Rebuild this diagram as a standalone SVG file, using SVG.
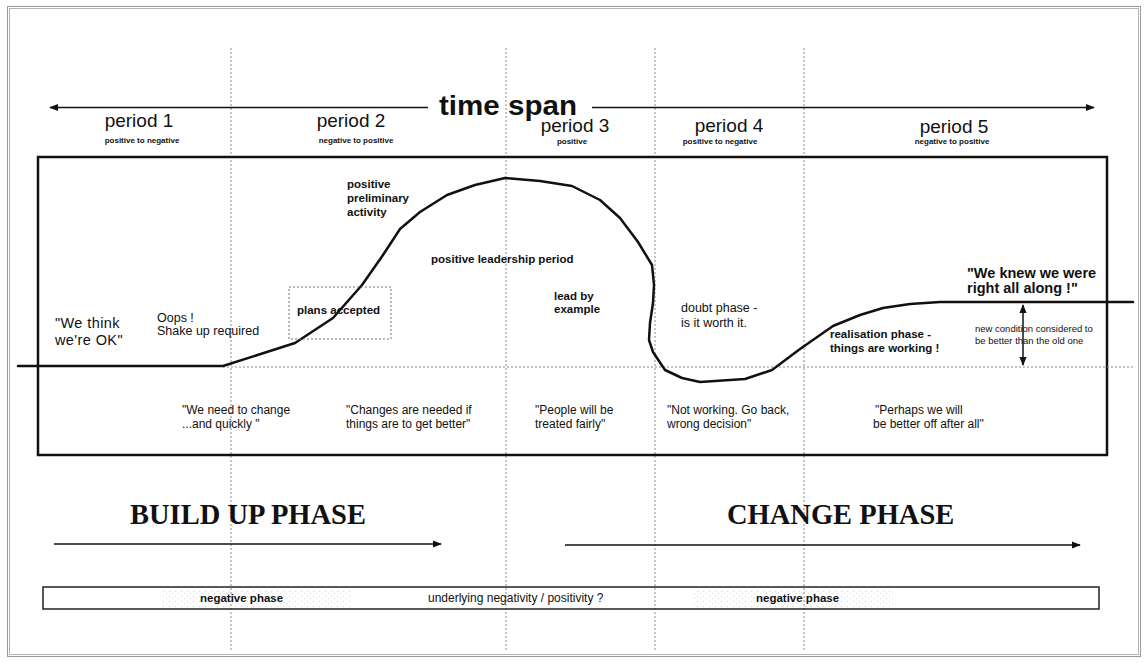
<svg xmlns="http://www.w3.org/2000/svg" width="1144" height="663" viewBox="0 0 1144 663">
  <style>
    .sans { font-family: "Liberation Sans", Arial, sans-serif; fill: #111; }
    .serif { font-family: "Liberation Serif", "Times New Roman", serif; fill: #111; font-weight: bold; }
    .period { font-size: 19px; text-anchor: middle; }
    .sub { font-size: 8px; font-weight: bold; text-anchor: middle; }
    .lbl { font-size: 11.5px; font-weight: bold; }
    .quote { font-size: 12px; }
    .guide { stroke: #8a8a8a; stroke-width: 1; stroke-dasharray: 2 2; fill: none; }
    .line { stroke: #111; fill: none; }
  </style>
  <defs>
    <marker id="arrowEnd" viewBox="0 0 10 10" refX="9" refY="5" markerWidth="9" markerHeight="9" markerUnits="userSpaceOnUse" orient="auto">
      <path d="M0,1 L10,5 L0,9 z" fill="#111"/>
    </marker>
    <marker id="arrowStart" viewBox="0 0 10 10" refX="1" refY="5" markerWidth="9" markerHeight="9" markerUnits="userSpaceOnUse" orient="auto">
      <path d="M10,1 L0,5 L10,9 z" fill="#111"/>
    </marker>
    <pattern id="grain" width="6" height="5" patternUnits="userSpaceOnUse">
      <rect x="1" y="1" width="1" height="1" fill="#c8c8c8"/>
      <rect x="4" y="3" width="1" height="1" fill="#d4d4d4"/>
    </pattern>
  </defs>

  <!-- page frame -->
  <rect x="0" y="0" width="1144" height="663" fill="#fff"/>
  <rect x="7.5" y="6.5" width="1133" height="650" fill="none" stroke="#9a9a9a" stroke-width="1"/>
  <rect x="9.5" y="8.5" width="1129" height="646" fill="none" stroke="#b5b5b5" stroke-width="1"/>

  <!-- period dividers -->
  <g id="dividers">
    <line class="guide" x1="231" y1="48" x2="231" y2="652"/>
    <line class="guide" x1="506" y1="48" x2="506" y2="652"/>
    <line class="guide" x1="655" y1="48" x2="655" y2="652"/>
    <line class="guide" x1="804" y1="48" x2="804" y2="652"/>
  </g>

  <!-- time span axis -->
  <g id="time-span">
    <line class="line" x1="50" y1="107.5" x2="428" y2="107.5" stroke-width="1.3" marker-start="url(#arrowStart)"/>
    <line class="line" x1="592" y1="107.5" x2="1094" y2="107.5" stroke-width="1.3" marker-end="url(#arrowEnd)"/>
    <text class="sans" x="439" y="115" font-size="28" font-weight="bold" textLength="138" lengthAdjust="spacingAndGlyphs">time span</text>
  </g>

  <!-- period headings -->
  <g id="period-1">
    <text class="sans period" x="139" y="127">period 1</text>
    <text class="sans sub" x="142" y="143">positive to negative</text>
  </g>
  <g id="period-2">
    <text class="sans period" x="351" y="127">period 2</text>
    <text class="sans sub" x="356" y="143">negative to positive</text>
  </g>
  <g id="period-3">
    <text class="sans period" x="575" y="132">period 3</text>
    <text class="sans sub" x="572" y="144">positive</text>
  </g>
  <g id="period-4">
    <text class="sans period" x="729" y="132">period 4</text>
    <text class="sans sub" x="720" y="144">positive to negative</text>
  </g>
  <g id="period-5">
    <text class="sans period" x="954" y="133">period 5</text>
    <text class="sans sub" x="952" y="144">negative to positive</text>
  </g>

  <!-- chart area -->
  <g id="chart-box">
    <rect x="38" y="157" width="1069" height="298" fill="none" stroke="#111" stroke-width="2.5"/>
  </g>

  <!-- connectors: baseline, curve, level lines -->
  <g id="connectors">
    <line class="guide" x1="223" y1="367" x2="1135" y2="367"/>
    <polyline class="line" stroke-width="2.5" stroke-linejoin="round" stroke-linecap="round"
      points="18,366 223,366 295,343 333,318 362,285 383,255 400,229 420,212 447,195 475,185 505,178 540,181 572,186 600,200 620,218 638,242 652,265 654,285 653,303 650,323 649,340 653,352 665,370 682,378 700,382 745,379 772,370 800,349 833,326 860,315 883,308 910,304 940,302 1133,302"/>
    <line class="line" x1="1023" y1="305" x2="1023" y2="365" stroke-width="1.5" marker-start="url(#arrowStart)" marker-end="url(#arrowEnd)"/>
  </g>

  <!-- curve annotations -->
  <g id="we-think-ok">
    <text class="sans" x="55" y="328" font-size="14.5" letter-spacing="0.4">"We think</text>
    <text class="sans" x="55" y="345" font-size="14.5" letter-spacing="0.4">we're OK"</text>
  </g>
  <g id="oops">
    <text class="sans" x="157" y="322" font-size="12.5">Oops !</text>
    <text class="sans" x="157" y="335" font-size="12.5">Shake up required</text>
  </g>
  <g id="plans-accepted">
    <rect x="289" y="287" width="102" height="52" fill="none" stroke="#777" stroke-width="1" stroke-dasharray="2 2"/>
    <text class="sans lbl" x="297" y="314">plans accepted</text>
  </g>
  <g id="preliminary-activity">
    <text class="sans lbl" x="347" y="188">positive</text>
    <text class="sans lbl" x="347" y="202">preliminary</text>
    <text class="sans lbl" x="347" y="216">activity</text>
  </g>
  <g id="leadership-period">
    <text class="sans lbl" x="431" y="263">positive leadership period</text>
  </g>
  <g id="lead-by-example">
    <text class="sans lbl" x="554" y="300">lead by</text>
    <text class="sans lbl" x="554" y="313">example</text>
  </g>
  <g id="doubt-phase">
    <text class="sans" x="681" y="312" font-size="12.5">doubt phase -</text>
    <text class="sans" x="681" y="327" font-size="12.5">is it worth it.</text>
  </g>
  <g id="realisation-phase">
    <text class="sans lbl" x="830" y="338">realisation phase -</text>
    <text class="sans lbl" x="830" y="352">things are working !</text>
  </g>
  <g id="knew-we-were-right">
    <text class="sans" x="967" y="278" font-size="14.5" font-weight="bold">"We knew we were</text>
    <text class="sans" x="967" y="293" font-size="14.5" font-weight="bold">right all along !"</text>
  </g>
  <g id="new-condition">
    <text class="sans" x="975" y="332" font-size="9.5">new condition considered to</text>
    <text class="sans" x="975" y="344" font-size="9.5">be better than the old one</text>
  </g>

  <!-- quotes under the curve -->
  <g id="quote-1">
    <text class="sans quote" x="182" y="414">"We need to change</text>
    <text class="sans quote" x="182" y="428">...and quickly "</text>
  </g>
  <g id="quote-2">
    <text class="sans quote" x="346" y="414">"Changes are needed if</text>
    <text class="sans quote" x="346" y="428">things are to get better"</text>
  </g>
  <g id="quote-3">
    <text class="sans quote" x="535" y="414">"People will be</text>
    <text class="sans quote" x="535" y="428">treated fairly"</text>
  </g>
  <g id="quote-4">
    <text class="sans quote" x="667" y="414">"Not working. Go back,</text>
    <text class="sans quote" x="667" y="428">wrong decision"</text>
  </g>
  <g id="quote-5">
    <text class="sans quote" x="875" y="414">"Perhaps we will</text>
    <text class="sans quote" x="873" y="428">be better off after all"</text>
  </g>

  <!-- phases -->
  <g id="build-up-phase">
    <text class="serif" x="130" y="524" font-size="28.5">BUILD UP PHASE</text>
    <line class="line" x1="54" y1="544" x2="441" y2="544" stroke-width="1.3" marker-end="url(#arrowEnd)"/>
  </g>
  <g id="change-phase">
    <text class="serif" x="727" y="524" font-size="28.5">CHANGE PHASE</text>
    <line class="line" x1="565" y1="545" x2="1080" y2="545" stroke-width="1.3" marker-end="url(#arrowEnd)"/>
  </g>

  <!-- underlying negativity band -->
  <g id="negativity-band">
    <rect x="163" y="589" width="189" height="18" fill="url(#grain)" opacity="0.8"/>
    <rect x="694" y="589" width="200" height="18" fill="url(#grain)" opacity="0.8"/>
    <rect x="43" y="587" width="1056" height="22" fill="none" stroke="#222" stroke-width="1.5"/>
    <text class="sans lbl" x="200" y="602">negative phase</text>
    <text class="sans" x="428" y="602" font-size="12">underlying negativity / positivity ?</text>
    <text class="sans lbl" x="756" y="602">negative phase</text>
  </g>
</svg>
